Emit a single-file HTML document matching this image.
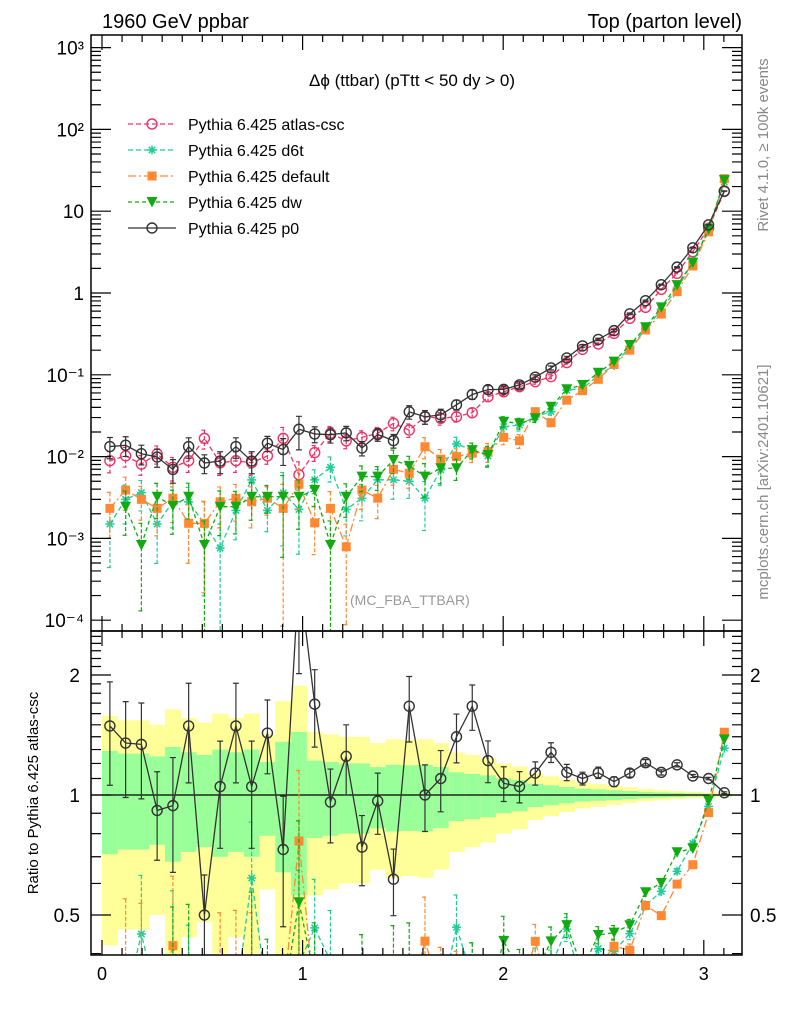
<!DOCTYPE html>
<html><head><meta charset="utf-8"><style>
html,body{margin:0;padding:0;background:#fff;width:786px;height:1024px;overflow:hidden;}
svg{display:block;font-family:"Liberation Sans",sans-serif;}
</style></head><body>
<svg id="chart" width="786" height="1024" viewBox="0 0 786 1024" xmlns="http://www.w3.org/2000/svg">
<defs>
<clipPath id="clipMain"><rect x="91" y="35" width="651" height="596"/></clipPath>
<clipPath id="clipRatio"><rect x="91" y="631" width="651" height="324"/></clipPath>
</defs>
<text x="102" y="28" font-size="20">1960 GeV ppbar</text>
<text x="742" y="28" font-size="20" text-anchor="end">Top (parton level)</text>
<text x="412" y="86" font-size="17" text-anchor="middle">Δϕ (ttbar) (pTtt &lt; 50 dy &gt; 0)</text>
<text x="350" y="605" font-size="14" fill="#999">(MC_FBA_TTBAR)</text>
<text transform="translate(768,145) rotate(-90)" font-size="15" fill="#888" text-anchor="middle">Rivet 4.1.0, ≥ 100k events</text>
<text transform="translate(768,482) rotate(-90)" font-size="15" fill="#888" text-anchor="middle">mcplots.cern.ch [arXiv:2401.10621]</text>
<text transform="translate(38,793) rotate(-90)" font-size="15" text-anchor="middle">Ratio to Pythia 6.425 atlas-csc</text>
<g id="gRatio" clip-path="url(#clipRatio)"></g>
<g id="gMain" clip-path="url(#clipMain)"></g>
<g id="gAxes"></g>
<g id="gLegend"></g>
</svg>
<script>
const nBins = 40;
const atlas = [0.0089,0.0102,0.0081,0.0108,0.0074,0.0089,0.0167,0.0084,0.0089,0.0084,0.0102,0.0167,0.006,0.0112,0.0193,0.0156,0.0172,0.0193,0.0255,0.0211,0.0307,0.0294,0.0307,0.0344,0.054,0.062,0.0716,0.0824,0.0948,0.141,0.205,0.238,0.321,0.49,0.668,1.11,1.74,3.2,6.2,17.4];
const d6t = [0.0015,0.003,0.00363,0.0015,0.0028,0.0028,0.0015,0.00076,0.0022,0.0052,0.0022,0.0036,0.00226,0.0052,0.0074,0.00226,0.0031,0.0052,0.0052,0.005,0.0031,0.0069,0.0143,0.012,0.0102,0.0232,0.0243,0.0307,0.0354,0.065,0.068,0.098,0.13,0.22,0.353,0.636,1.12,2.42,5.8,22.8];
const deflt = [0.00233,0.0039,0.003,0.00233,0.0031,0.00153,0.00153,0.0028,0.0031,0.0028,0.0031,0.00233,0.0046,0.00155,0.00233,0.00079,0.0039,0.0031,0.007,0.00625,0.0132,0.0093,0.01,0.011,0.0115,0.0172,0.0156,0.0354,0.026,0.049,0.064,0.088,0.134,0.2,0.353,0.553,1.04,2.14,5.6,25];
const dw = [null,0.00244,0.00083,0.00323,0.0025,0.00323,0.00083,0.00244,0.00244,0.00323,0.00323,0.00323,0.00323,0.0039,0.00083,0.00323,0.0057,0.0057,0.0091,0.0077,0.0057,0.0072,0.0072,0.012,0.0105,0.0267,0.0255,0.0294,0.0407,0.0665,0.075,0.106,0.145,0.231,0.381,0.668,1.25,2.35,6.0,24];
const p0 = [0.01326,0.01377,0.01085,0.00988,0.00696,0.01326,0.00835,0.00882,0.01326,0.00882,0.01459,0.01219,0.0216,0.01893,0.01853,0.0195,0.01273,0.01864,0.01568,0.03524,0.0307,0.03234,0.04298,0.05745,0.06588,0.06634,0.07518,0.09352,0.1213,0.1607,0.2255,0.2706,0.3467,0.5562,0.805,1.265,2.071,3.571,6.82,17.63];
const relErr = [0.29,0.27,0.27,0.25,0.32,0.28,0.26,0.30,0.28,0.30,0.21,0.36,0.44,0.22,0.21,0.20,0.20,0.175,0.19,0.187,0.19,0.175,0.14,0.13,0.12,0.10,0.09,0.067,0.057,0.047,0.037,0.033,0.028,0.023,0.018,0.015,0.012,0.009,0.007,0.005];
const xTicks = [0,1,2,3];
const yMainTicks = [1e-4,1e-3,1e-2,1e-1,1,10,100,1000];
const yMainLabels = ["10⁻⁴","10⁻³","10⁻²","10⁻¹","1","10","10²","10³"];
const ratioTicks = [0.5,1,2];
const ratioLabels = ["0.5","1","2"];
const legendNames = ["Pythia 6.425 atlas-csc","Pythia 6.425 d6t","Pythia 6.425 default","Pythia 6.425 dw","Pythia 6.425 p0"];

const NS = "http://www.w3.org/2000/svg";
const X0 = 91, X1 = 742, MT = 35, MB = 631, RB = 955;
const xS = v => 102 + 200.6 * v;
const yM = v => 293 - 81.8 * Math.log10(v);
const yR = r => 795 - 398.7 * Math.log10(r);
const bw = Math.PI / nBins;
const xc = i => xS((i + 0.5) * bw);
const clampY = y => Math.max(0, Math.min(1000, y));

function el(tag, attrs, parent) {
  const e = document.createElementNS(NS, tag);
  for (const k in attrs) e.setAttribute(k, attrs[k]);
  parent.appendChild(e);
  return e;
}
const gMain = document.getElementById('gMain');
const gRatio = document.getElementById('gRatio');
const gAxes = document.getElementById('gAxes');
const gLegend = document.getElementById('gLegend');

for (let i = 0; i < nBins; i++) {
  const xa = xS(i * bw), xb = xS((i + 1) * bw);
  const e = relErr[i];
  const yTop = yR(1 + 2 * e), yBot = 1 - 2 * e > 0.01 ? clampY(yR(1 - 2 * e)) : 1000;
  const r1 = el('rect', {x: xa, y: yTop, width: xb - xa + 0.3, height: yBot - yTop, fill: '#ffff99'}, gRatio);
  
  
  const gTop = yR(1 + e), gBot = yR(1 - e);
  const r2 = el('rect', {x: xa, y: gTop, width: xb - xa + 0.3, height: gBot - gTop, fill: '#99ff99'}, gRatio);
  
  
}
const refLine = el('line', {x1: X0, x2: X1, y1: yR(1), y2: yR(1), stroke: '#000', 'stroke-width': 1.3}, gRatio);



const series = [
  {name: 'atlas-csc', vals: atlas, color: '#ee3366', dash: '5,3', marker: 'ocircle'},
  {name: 'd6t', vals: d6t, color: '#22cc99', dash: '5,3', marker: 'star'},
  {name: 'default', vals: deflt, color: '#ff8833', dash: '8,3,2,3', marker: 'square'},
  {name: 'dw', vals: dw, color: '#11aa11', dash: '4,3', marker: 'tri'},
  {name: 'p0', vals: p0, color: '#333333', dash: '', marker: 'ocircle'}
];

function marker(type, x, y, color, g) {
  let m;
  if (type === 'ocircle') m = el('circle', {cx: x, cy: y, r: 5, fill: 'none', stroke: color, 'stroke-width': 1.4}, g);
  else if (type === 'square') m = el('rect', {x: x - 4.5, y: y - 4.5, width: 9, height: 9, fill: color}, g);
  else if (type === 'tri') m = el('path', {d: `M${x-5.5},${y-5} L${x+5.5},${y-5} L${x},${y+5.5} Z`, fill: color}, g);
  else {
    let d = '';
    for (let k = 0; k < 4; k++) { const a = k * Math.PI / 4; d += `M${x-4.5*Math.cos(a)},${y-4.5*Math.sin(a)} L${x+4.5*Math.cos(a)},${y+4.5*Math.sin(a)} `; }
    m = el('path', {d: d, stroke: color, 'stroke-width': 1.5, fill: 'none'}, g);
  }
  return m;
}

function errOf(s, i) {
  const v = s.vals[i];
  if (s.name === 'atlas-csc' || s.name === 'p0') return relErr[i];
  return Math.min(0.97, relErr[i] * Math.sqrt(atlas[i] / v));
}

function drawSeries(s, g, yF, valF, panel) {
  const sg = el('g', {}, g);
  
  
  let pts = [];
  for (let i = 0; i < nBins; i++) {
    if (s.vals[i] == null) continue;
    pts.push([xc(i), clampY(yF(valF(i)))]);
  }
  const line = el('polyline', {points: pts.map(p => p.join(',')).join(' '), fill: 'none', stroke: s.color, 'stroke-width': 1.3, 'stroke-dasharray': s.dash}, sg);
  
  
  for (let i = 0; i < nBins; i++) {
    if (s.vals[i] == null) continue;
    const val = valF(i);
    const re = errOf(s, i);
    const x = xc(i), y = yF(val);
    if (y > 1000 || y < 0) continue;
    const yHi = clampY(yF(val * (1 + re)));
    const yLo = (1 - re) > 0.02 ? clampY(yF(val * (1 - re))) : 1000;
    const eb = el('path', {d: `M${x},${yHi} L${x},${yLo} M${x-3},${yHi} L${x+3},${yHi} M${x-3},${yLo} L${x+3},${yLo}`, stroke: s.color, 'stroke-width': 1.2, fill: 'none', 'stroke-dasharray': s.dash ? '4,2' : ''}, sg);
    
    
    const m = marker(s.marker, x, y, s.color, sg);
    
    
  }
}

series.forEach(s => drawSeries(s, gMain, yM, i => s.vals[i], 'main'));
series.slice(1).forEach(s => drawSeries(s, gRatio, yR, i => s.vals[i] / atlas[i], 'ratio'));

const f1 = el('rect', {x: X0, y: MT, width: X1 - X0, height: MB - MT, fill: 'none', stroke: '#000', 'stroke-width': 1.5}, gAxes);


const f2 = el('rect', {x: X0, y: MB, width: X1 - X0, height: RB - MB, fill: 'none', stroke: '#000', 'stroke-width': 1.5}, gAxes);



let dT = '';
for (let k = 0; k <= 31; k++) {
  const v = k / 10, x = xS(v);
  if (x < X0 || x > X1) continue;
  const L = (k % 10 === 0) ? 15 : 7;
  dT += `M${x},${MT} L${x},${MT+L} M${x},${MB} L${x},${MB-L} M${x},${MB} L${x},${MB+L} M${x},${RB} L${x},${RB-L} `;
}
for (let d = -4; d <= 3; d++) {
  for (let m = 1; m <= 9; m++) {
    const v = m * Math.pow(10, d), y = yM(v);
    if (y < MT || y > MB) continue;
    const L = m === 1 ? 20 : 10;
    dT += `M${X0},${y} L${X0+L},${y} M${X1},${y} L${X1-L},${y} `;
  }
}
for (let k = 4; k <= 25; k++) {
  const v = k / 10, y = yR(v);
  if (y < MB || y > RB) continue;
  const L = (k === 5 || k === 10 || k === 20) ? 20 : 10;
  dT += `M${X0},${y} L${X0+L},${y} M${X1},${y} L${X1-L},${y} `;
}
const ticks = el('path', {d: dT, stroke: '#000', 'stroke-width': 1.2, fill: 'none'}, gAxes);



xTicks.forEach(v => {
  const t = el('text', {x: xS(v), y: 980, 'font-size': 18, 'text-anchor': 'middle'}, gAxes);
  t.textContent = String(v);
  
  
});
yMainTicks.forEach((v, i) => {
  const t = el('text', {x: 84, y: yM(v) + 7, 'font-size': 19, 'text-anchor': 'end'}, gAxes);
  t.textContent = yMainLabels[i];
  
  
});
ratioTicks.forEach((v, i) => {
  const t = el('text', {x: 80, y: yR(v) + 7, 'font-size': 19, 'text-anchor': 'end'}, gAxes);
  t.textContent = ratioLabels[i];
  
  
  const t2 = el('text', {x: 750, y: yR(v) + 7, 'font-size': 19}, gAxes);
  t2.textContent = ratioLabels[i];
  
  
});

series.forEach((s, i) => {
  const y = 124 + i * 26;
  const g = el('g', {}, gLegend);
  
  
  el('line', {x1: 128, x2: 176, y1: y, y2: y, stroke: s.color, 'stroke-width': 1.3, 'stroke-dasharray': s.dash}, g);
  marker(s.marker, 152, y, s.color, g);
  const t = el('text', {x: 188, y: y + 6, 'font-size': 16}, g);
  t.textContent = legendNames[i];
});
</script>
</body></html>
